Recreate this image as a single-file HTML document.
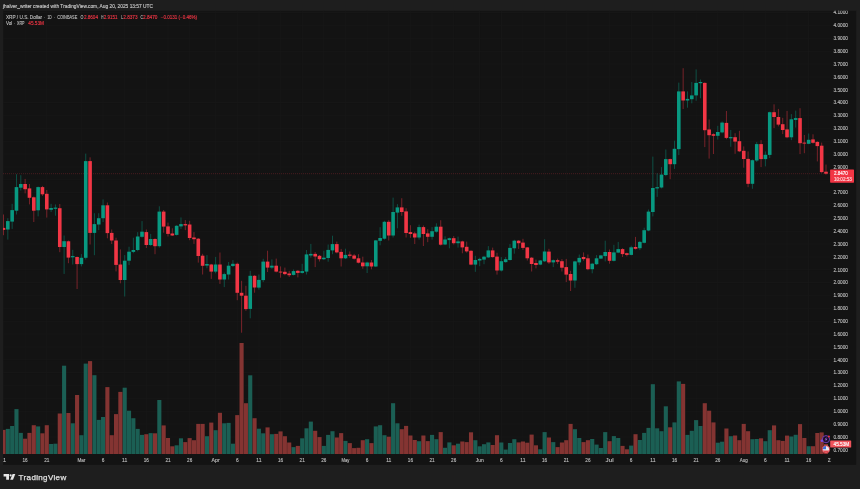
<!DOCTYPE html><html><head><meta charset="utf-8"><title>XRP chart</title><style>
html,body{margin:0;padding:0;background:#1e1e1e;}body{width:860px;height:489px;overflow:hidden;font-family:"Liberation Sans",sans-serif;}svg{display:block;}text{font-family:"Liberation Sans",sans-serif;}svg{will-change:transform;}
</style></head><body>
<svg width="860" height="489" viewBox="0 0 860 489">
<rect x="0" y="0" width="860" height="489" fill="#1e1e1e"/>
<rect x="3.0" y="10.8" width="853.2" height="454.0" fill="#131313"/>
<defs><clipPath id="cp"><rect x="3.0" y="10.8" width="828.0" height="444.7"/></clipPath><clipPath id="ct"><rect x="3.0" y="455" width="828.0" height="10"/></clipPath><clipPath id="ca"><rect x="3.0" y="10.8" width="853.2" height="454.0"/></clipPath></defs>
<g fill="#181818" clip-path="url(#cp)"><rect x="3.14" y="10.8" width="0.7" height="444.2"/><rect x="24.78" y="10.8" width="0.7" height="444.2"/><rect x="46.43" y="10.8" width="0.7" height="444.2"/><rect x="81.06" y="10.8" width="0.7" height="444.2"/><rect x="102.71" y="10.8" width="0.7" height="444.2"/><rect x="124.35" y="10.8" width="0.7" height="444.2"/><rect x="146.00" y="10.8" width="0.7" height="444.2"/><rect x="167.64" y="10.8" width="0.7" height="444.2"/><rect x="189.29" y="10.8" width="0.7" height="444.2"/><rect x="215.26" y="10.8" width="0.7" height="444.2"/><rect x="236.91" y="10.8" width="0.7" height="444.2"/><rect x="258.55" y="10.8" width="0.7" height="444.2"/><rect x="280.20" y="10.8" width="0.7" height="444.2"/><rect x="301.84" y="10.8" width="0.7" height="444.2"/><rect x="323.49" y="10.8" width="0.7" height="444.2"/><rect x="345.13" y="10.8" width="0.7" height="444.2"/><rect x="366.78" y="10.8" width="0.7" height="444.2"/><rect x="388.42" y="10.8" width="0.7" height="444.2"/><rect x="410.07" y="10.8" width="0.7" height="444.2"/><rect x="431.71" y="10.8" width="0.7" height="444.2"/><rect x="453.36" y="10.8" width="0.7" height="444.2"/><rect x="479.33" y="10.8" width="0.7" height="444.2"/><rect x="500.97" y="10.8" width="0.7" height="444.2"/><rect x="522.62" y="10.8" width="0.7" height="444.2"/><rect x="544.26" y="10.8" width="0.7" height="444.2"/><rect x="565.91" y="10.8" width="0.7" height="444.2"/><rect x="587.55" y="10.8" width="0.7" height="444.2"/><rect x="609.20" y="10.8" width="0.7" height="444.2"/><rect x="630.84" y="10.8" width="0.7" height="444.2"/><rect x="652.49" y="10.8" width="0.7" height="444.2"/><rect x="674.13" y="10.8" width="0.7" height="444.2"/><rect x="695.78" y="10.8" width="0.7" height="444.2"/><rect x="717.42" y="10.8" width="0.7" height="444.2"/><rect x="743.40" y="10.8" width="0.7" height="444.2"/><rect x="765.04" y="10.8" width="0.7" height="444.2"/><rect x="786.69" y="10.8" width="0.7" height="444.2"/><rect x="808.33" y="10.8" width="0.7" height="444.2"/><rect x="3.0" y="12.32" width="828.0" height="0.7"/><rect x="3.0" y="25.18" width="828.0" height="0.7"/><rect x="3.0" y="38.04" width="828.0" height="0.7"/><rect x="3.0" y="50.89" width="828.0" height="0.7"/><rect x="3.0" y="63.75" width="828.0" height="0.7"/><rect x="3.0" y="76.61" width="828.0" height="0.7"/><rect x="3.0" y="89.47" width="828.0" height="0.7"/><rect x="3.0" y="102.32" width="828.0" height="0.7"/><rect x="3.0" y="115.18" width="828.0" height="0.7"/><rect x="3.0" y="128.04" width="828.0" height="0.7"/><rect x="3.0" y="140.89" width="828.0" height="0.7"/><rect x="3.0" y="153.75" width="828.0" height="0.7"/><rect x="3.0" y="166.61" width="828.0" height="0.7"/><rect x="3.0" y="179.46" width="828.0" height="0.7"/><rect x="3.0" y="192.32" width="828.0" height="0.7"/><rect x="3.0" y="205.18" width="828.0" height="0.7"/><rect x="3.0" y="218.03" width="828.0" height="0.7"/><rect x="3.0" y="230.89" width="828.0" height="0.7"/><rect x="3.0" y="243.75" width="828.0" height="0.7"/><rect x="3.0" y="256.61" width="828.0" height="0.7"/><rect x="3.0" y="269.46" width="828.0" height="0.7"/><rect x="3.0" y="282.32" width="828.0" height="0.7"/><rect x="3.0" y="295.18" width="828.0" height="0.7"/><rect x="3.0" y="308.03" width="828.0" height="0.7"/><rect x="3.0" y="320.89" width="828.0" height="0.7"/><rect x="3.0" y="333.75" width="828.0" height="0.7"/><rect x="3.0" y="346.60" width="828.0" height="0.7"/><rect x="3.0" y="359.46" width="828.0" height="0.7"/><rect x="3.0" y="372.32" width="828.0" height="0.7"/><rect x="3.0" y="385.18" width="828.0" height="0.7"/><rect x="3.0" y="398.03" width="828.0" height="0.7"/><rect x="3.0" y="410.89" width="828.0" height="0.7"/><rect x="3.0" y="423.75" width="828.0" height="0.7"/><rect x="3.0" y="436.60" width="828.0" height="0.7"/><rect x="3.0" y="449.46" width="828.0" height="0.7"/></g>
<g clip-path="url(#cp)"><g fill="#1b5f54"><rect x="5.77" y="428.9" width="4.10" height="25.1"/><rect x="10.10" y="426.0" width="4.10" height="28.0"/><rect x="14.43" y="409.1" width="4.10" height="44.9"/><rect x="18.76" y="432.9" width="4.10" height="21.1"/><rect x="36.07" y="426.4" width="4.10" height="27.6"/><rect x="49.06" y="444.0" width="4.10" height="10.0"/><rect x="53.39" y="443.7" width="4.10" height="10.3"/><rect x="62.05" y="365.7" width="4.10" height="88.3"/><rect x="70.70" y="423.3" width="4.10" height="30.7"/><rect x="79.36" y="435.2" width="4.10" height="18.8"/><rect x="83.69" y="363.6" width="4.10" height="90.4"/><rect x="92.35" y="375.2" width="4.10" height="78.8"/><rect x="96.68" y="419.9" width="4.10" height="34.1"/><rect x="101.01" y="417.0" width="4.10" height="37.0"/><rect x="122.65" y="387.7" width="4.10" height="66.3"/><rect x="126.98" y="410.7" width="4.10" height="43.3"/><rect x="131.31" y="418.2" width="4.10" height="35.8"/><rect x="135.64" y="428.9" width="4.10" height="25.1"/><rect x="139.97" y="434.9" width="4.10" height="19.1"/><rect x="148.63" y="433.1" width="4.10" height="20.9"/><rect x="157.28" y="400.0" width="4.10" height="54.0"/><rect x="174.60" y="445.3" width="4.10" height="8.7"/><rect x="178.93" y="438.3" width="4.10" height="15.7"/><rect x="204.90" y="436.2" width="4.10" height="17.8"/><rect x="213.56" y="430.2" width="4.10" height="23.8"/><rect x="222.22" y="423.3" width="4.10" height="30.7"/><rect x="226.55" y="422.9" width="4.10" height="31.1"/><rect x="230.88" y="443.7" width="4.10" height="10.3"/><rect x="248.19" y="375.3" width="4.10" height="78.7"/><rect x="256.85" y="428.7" width="4.10" height="25.3"/><rect x="261.18" y="433.3" width="4.10" height="20.7"/><rect x="269.84" y="434.2" width="4.10" height="19.8"/><rect x="291.48" y="447.1" width="4.10" height="6.9"/><rect x="300.14" y="438.3" width="4.10" height="15.7"/><rect x="304.47" y="428.3" width="4.10" height="25.7"/><rect x="308.80" y="421.6" width="4.10" height="32.4"/><rect x="321.79" y="445.9" width="4.10" height="8.1"/><rect x="326.11" y="434.9" width="4.10" height="19.1"/><rect x="330.44" y="431.2" width="4.10" height="22.8"/><rect x="343.43" y="440.9" width="4.10" height="13.1"/><rect x="365.08" y="439.2" width="4.10" height="14.8"/><rect x="373.73" y="426.4" width="4.10" height="27.6"/><rect x="378.06" y="425.2" width="4.10" height="28.8"/><rect x="382.39" y="435.2" width="4.10" height="18.8"/><rect x="391.05" y="403.2" width="4.10" height="50.8"/><rect x="395.38" y="423.3" width="4.10" height="30.7"/><rect x="417.02" y="441.2" width="4.10" height="12.8"/><rect x="430.01" y="434.9" width="4.10" height="19.1"/><rect x="434.34" y="439.2" width="4.10" height="14.8"/><rect x="443.00" y="447.8" width="4.10" height="6.2"/><rect x="447.33" y="442.4" width="4.10" height="11.6"/><rect x="455.98" y="443.7" width="4.10" height="10.3"/><rect x="473.30" y="440.2" width="4.10" height="13.8"/><rect x="477.63" y="446.3" width="4.10" height="7.7"/><rect x="481.96" y="444.2" width="4.10" height="9.8"/><rect x="486.29" y="442.4" width="4.10" height="11.6"/><rect x="499.27" y="442.5" width="4.10" height="11.5"/><rect x="503.60" y="449.6" width="4.10" height="4.4"/><rect x="507.93" y="443.0" width="4.10" height="11.0"/><rect x="512.26" y="439.2" width="4.10" height="14.8"/><rect x="538.24" y="449.3" width="4.10" height="4.7"/><rect x="542.57" y="432.1" width="4.10" height="21.9"/><rect x="551.22" y="442.1" width="4.10" height="11.9"/><rect x="572.87" y="429.2" width="4.10" height="24.8"/><rect x="577.20" y="438.0" width="4.10" height="16.0"/><rect x="590.18" y="439.0" width="4.10" height="15.0"/><rect x="594.51" y="444.6" width="4.10" height="9.4"/><rect x="598.84" y="448.0" width="4.10" height="6.0"/><rect x="603.17" y="432.1" width="4.10" height="21.9"/><rect x="611.83" y="436.1" width="4.10" height="17.9"/><rect x="616.16" y="438.0" width="4.10" height="16.0"/><rect x="629.14" y="445.6" width="4.10" height="8.4"/><rect x="637.80" y="440.0" width="4.10" height="14.0"/><rect x="642.13" y="432.9" width="4.10" height="21.1"/><rect x="646.46" y="427.9" width="4.10" height="26.1"/><rect x="650.79" y="384.2" width="4.10" height="69.8"/><rect x="655.12" y="428.3" width="4.10" height="25.7"/><rect x="659.45" y="431.2" width="4.10" height="22.8"/><rect x="663.78" y="406.3" width="4.10" height="47.7"/><rect x="672.44" y="422.4" width="4.10" height="31.6"/><rect x="676.76" y="381.4" width="4.10" height="72.6"/><rect x="685.42" y="434.9" width="4.10" height="19.1"/><rect x="689.75" y="430.8" width="4.10" height="23.2"/><rect x="694.08" y="420.1" width="4.10" height="33.9"/><rect x="698.41" y="426.0" width="4.10" height="28.0"/><rect x="715.73" y="442.7" width="4.10" height="11.3"/><rect x="720.05" y="441.7" width="4.10" height="12.3"/><rect x="728.71" y="436.2" width="4.10" height="17.8"/><rect x="750.36" y="439.2" width="4.10" height="14.8"/><rect x="754.69" y="439.0" width="4.10" height="15.0"/><rect x="763.34" y="441.2" width="4.10" height="12.8"/><rect x="767.67" y="430.2" width="4.10" height="23.8"/><rect x="789.32" y="436.5" width="4.10" height="17.5"/><rect x="793.65" y="434.8" width="4.10" height="19.2"/><rect x="806.63" y="446.2" width="4.10" height="7.8"/></g><g fill="#843432"><rect x="1.44" y="429.9" width="4.10" height="24.1"/><rect x="23.08" y="438.7" width="4.10" height="15.3"/><rect x="27.41" y="432.9" width="4.10" height="21.1"/><rect x="31.74" y="425.2" width="4.10" height="28.8"/><rect x="40.40" y="433.3" width="4.10" height="20.7"/><rect x="44.73" y="425.2" width="4.10" height="28.8"/><rect x="57.72" y="413.5" width="4.10" height="40.5"/><rect x="66.38" y="413.0" width="4.10" height="41.0"/><rect x="75.03" y="395.0" width="4.10" height="59.0"/><rect x="88.02" y="361.1" width="4.10" height="92.9"/><rect x="105.34" y="387.1" width="4.10" height="66.9"/><rect x="109.66" y="435.2" width="4.10" height="18.8"/><rect x="113.99" y="414.1" width="4.10" height="39.9"/><rect x="118.32" y="391.9" width="4.10" height="62.1"/><rect x="144.30" y="434.2" width="4.10" height="19.8"/><rect x="152.95" y="433.3" width="4.10" height="20.7"/><rect x="161.61" y="425.4" width="4.10" height="28.6"/><rect x="165.94" y="438.0" width="4.10" height="16.0"/><rect x="170.27" y="446.3" width="4.10" height="7.7"/><rect x="183.26" y="442.1" width="4.10" height="11.9"/><rect x="187.59" y="438.1" width="4.10" height="15.9"/><rect x="191.92" y="440.2" width="4.10" height="13.8"/><rect x="196.24" y="423.9" width="4.10" height="30.1"/><rect x="200.57" y="423.9" width="4.10" height="30.1"/><rect x="209.23" y="422.6" width="4.10" height="31.4"/><rect x="217.89" y="412.8" width="4.10" height="41.2"/><rect x="235.21" y="415.1" width="4.10" height="38.9"/><rect x="239.53" y="343.0" width="4.10" height="111.0"/><rect x="243.86" y="403.2" width="4.10" height="50.8"/><rect x="252.52" y="418.2" width="4.10" height="35.8"/><rect x="265.51" y="427.4" width="4.10" height="26.6"/><rect x="274.17" y="433.9" width="4.10" height="20.1"/><rect x="278.50" y="431.4" width="4.10" height="22.6"/><rect x="282.82" y="436.2" width="4.10" height="17.8"/><rect x="287.15" y="442.5" width="4.10" height="11.5"/><rect x="295.81" y="445.9" width="4.10" height="8.1"/><rect x="313.13" y="430.8" width="4.10" height="23.2"/><rect x="317.46" y="437.1" width="4.10" height="16.9"/><rect x="334.77" y="437.5" width="4.10" height="16.5"/><rect x="339.10" y="433.1" width="4.10" height="20.9"/><rect x="347.76" y="443.1" width="4.10" height="10.9"/><rect x="352.09" y="448.1" width="4.10" height="5.9"/><rect x="356.42" y="447.8" width="4.10" height="6.2"/><rect x="360.75" y="440.2" width="4.10" height="13.8"/><rect x="369.40" y="443.1" width="4.10" height="10.9"/><rect x="386.72" y="436.7" width="4.10" height="17.3"/><rect x="399.71" y="429.2" width="4.10" height="24.8"/><rect x="404.04" y="425.9" width="4.10" height="28.1"/><rect x="408.37" y="435.5" width="4.10" height="18.5"/><rect x="412.69" y="440.0" width="4.10" height="14.0"/><rect x="421.35" y="435.5" width="4.10" height="18.5"/><rect x="425.68" y="441.1" width="4.10" height="12.9"/><rect x="438.67" y="432.1" width="4.10" height="21.9"/><rect x="451.66" y="445.3" width="4.10" height="8.7"/><rect x="460.31" y="441.5" width="4.10" height="12.5"/><rect x="464.64" y="442.1" width="4.10" height="11.9"/><rect x="468.97" y="432.3" width="4.10" height="21.7"/><rect x="490.62" y="445.0" width="4.10" height="9.0"/><rect x="494.95" y="435.2" width="4.10" height="18.8"/><rect x="516.59" y="442.4" width="4.10" height="11.6"/><rect x="520.92" y="441.5" width="4.10" height="12.5"/><rect x="525.25" y="442.7" width="4.10" height="11.3"/><rect x="529.58" y="434.6" width="4.10" height="19.4"/><rect x="533.91" y="445.3" width="4.10" height="8.7"/><rect x="546.89" y="437.5" width="4.10" height="16.5"/><rect x="555.55" y="447.1" width="4.10" height="6.9"/><rect x="559.88" y="442.5" width="4.10" height="11.5"/><rect x="564.21" y="440.2" width="4.10" height="13.8"/><rect x="568.54" y="423.9" width="4.10" height="30.1"/><rect x="581.53" y="442.1" width="4.10" height="11.9"/><rect x="585.86" y="440.2" width="4.10" height="13.8"/><rect x="607.50" y="441.2" width="4.10" height="12.8"/><rect x="620.49" y="445.9" width="4.10" height="8.1"/><rect x="624.82" y="449.3" width="4.10" height="4.7"/><rect x="633.47" y="434.2" width="4.10" height="19.8"/><rect x="668.11" y="427.3" width="4.10" height="26.7"/><rect x="681.09" y="383.9" width="4.10" height="70.1"/><rect x="702.74" y="403.2" width="4.10" height="50.8"/><rect x="707.07" y="410.7" width="4.10" height="43.3"/><rect x="711.40" y="422.4" width="4.10" height="31.6"/><rect x="724.38" y="428.5" width="4.10" height="25.5"/><rect x="733.04" y="435.5" width="4.10" height="18.5"/><rect x="737.37" y="440.2" width="4.10" height="13.8"/><rect x="741.70" y="423.9" width="4.10" height="30.1"/><rect x="746.03" y="431.2" width="4.10" height="22.8"/><rect x="759.01" y="438.3" width="4.10" height="15.7"/><rect x="772.00" y="425.4" width="4.10" height="28.6"/><rect x="776.33" y="440.2" width="4.10" height="13.8"/><rect x="780.66" y="440.9" width="4.10" height="13.1"/><rect x="784.99" y="435.6" width="4.10" height="18.4"/><rect x="797.98" y="424.1" width="4.10" height="29.9"/><rect x="802.30" y="438.0" width="4.10" height="16.0"/><rect x="810.96" y="446.2" width="4.10" height="7.8"/><rect x="815.29" y="433.0" width="4.10" height="21.0"/><rect x="819.62" y="432.4" width="4.10" height="21.6"/><rect x="823.95" y="444.0" width="4.10" height="10.0"/></g></g>
<line x1="3.0" y1="173.7" x2="831.0" y2="173.7" stroke="#f23645" stroke-width="0.9" stroke-dasharray="1 1" opacity="0.26"/>
<g clip-path="url(#cp)"><g fill="#089981" opacity="0.45"><rect x="7.32" y="218.2" width="1.0" height="21.4"/><rect x="11.65" y="203.8" width="1.0" height="25.1"/><rect x="15.98" y="174.2" width="1.0" height="40.3"/><rect x="20.31" y="175.2" width="1.0" height="15.3"/><rect x="37.62" y="186.5" width="1.0" height="29.9"/><rect x="50.61" y="203.8" width="1.0" height="8.2"/><rect x="54.94" y="204.4" width="1.0" height="11.3"/><rect x="63.60" y="235.5" width="1.0" height="38.4"/><rect x="72.25" y="249.8" width="1.0" height="14.7"/><rect x="80.91" y="254.1" width="1.0" height="12.3"/><rect x="85.24" y="153.6" width="1.0" height="105.9"/><rect x="93.90" y="213.2" width="1.0" height="42.0"/><rect x="98.23" y="213.2" width="1.0" height="17.0"/><rect x="102.56" y="199.4" width="1.0" height="22.6"/><rect x="124.20" y="255.1" width="1.0" height="41.4"/><rect x="128.53" y="246.7" width="1.0" height="18.4"/><rect x="132.86" y="237.7" width="1.0" height="15.5"/><rect x="137.19" y="232.1" width="1.0" height="19.2"/><rect x="141.52" y="221.1" width="1.0" height="16.6"/><rect x="150.18" y="233.9" width="1.0" height="12.0"/><rect x="158.83" y="206.3" width="1.0" height="41.3"/><rect x="176.15" y="225.2" width="1.0" height="10.3"/><rect x="180.48" y="217.4" width="1.0" height="11.5"/><rect x="206.45" y="255.1" width="1.0" height="13.2"/><rect x="215.11" y="256.9" width="1.0" height="16.4"/><rect x="223.77" y="272.6" width="1.0" height="14.5"/><rect x="228.10" y="262.0" width="1.0" height="17.5"/><rect x="232.43" y="260.1" width="1.0" height="6.9"/><rect x="249.74" y="270.8" width="1.0" height="47.5"/><rect x="258.40" y="274.5" width="1.0" height="15.1"/><rect x="262.73" y="258.8" width="1.0" height="23.3"/><rect x="271.39" y="259.4" width="1.0" height="9.5"/><rect x="293.03" y="269.5" width="1.0" height="5.9"/><rect x="301.69" y="263.8" width="1.0" height="9.8"/><rect x="306.02" y="250.0" width="1.0" height="24.5"/><rect x="310.35" y="243.9" width="1.0" height="13.8"/><rect x="323.34" y="250.8" width="1.0" height="9.2"/><rect x="327.66" y="244.5" width="1.0" height="17.2"/><rect x="331.99" y="235.7" width="1.0" height="18.5"/><rect x="344.98" y="248.7" width="1.0" height="10.3"/><rect x="366.63" y="261.7" width="1.0" height="11.3"/><rect x="375.28" y="239.9" width="1.0" height="27.2"/><rect x="379.61" y="227.2" width="1.0" height="18.1"/><rect x="383.94" y="220.8" width="1.0" height="18.8"/><rect x="392.60" y="197.6" width="1.0" height="39.9"/><rect x="396.93" y="204.1" width="1.0" height="24.2"/><rect x="418.57" y="224.6" width="1.0" height="15.0"/><rect x="431.56" y="227.1" width="1.0" height="12.5"/><rect x="435.89" y="223.3" width="1.0" height="9.4"/><rect x="444.55" y="236.3" width="1.0" height="8.8"/><rect x="448.88" y="237.6" width="1.0" height="10.7"/><rect x="457.53" y="236.6" width="1.0" height="11.0"/><rect x="474.85" y="255.8" width="1.0" height="16.0"/><rect x="479.18" y="257.7" width="1.0" height="8.5"/><rect x="483.51" y="255.8" width="1.0" height="8.4"/><rect x="487.84" y="246.1" width="1.0" height="11.8"/><rect x="500.82" y="257.1" width="1.0" height="14.4"/><rect x="505.15" y="257.1" width="1.0" height="5.6"/><rect x="509.48" y="244.1" width="1.0" height="16.4"/><rect x="513.81" y="239.8" width="1.0" height="13.9"/><rect x="539.79" y="260.0" width="1.0" height="5.2"/><rect x="544.12" y="239.2" width="1.0" height="22.8"/><rect x="552.77" y="259.5" width="1.0" height="7.6"/><rect x="574.42" y="260.8" width="1.0" height="27.0"/><rect x="578.75" y="254.5" width="1.0" height="10.7"/><rect x="591.73" y="262.9" width="1.0" height="10.4"/><rect x="596.06" y="255.1" width="1.0" height="9.8"/><rect x="600.39" y="254.9" width="1.0" height="4.2"/><rect x="604.72" y="240.7" width="1.0" height="20.7"/><rect x="613.38" y="244.8" width="1.0" height="16.6"/><rect x="617.71" y="241.9" width="1.0" height="11.3"/><rect x="630.69" y="245.7" width="1.0" height="9.6"/><rect x="639.35" y="241.0" width="1.0" height="9.1"/><rect x="643.68" y="227.7" width="1.0" height="15.7"/><rect x="648.01" y="209.5" width="1.0" height="21.7"/><rect x="652.34" y="156.6" width="1.0" height="59.8"/><rect x="656.67" y="173.3" width="1.0" height="23.6"/><rect x="661.00" y="167.1" width="1.0" height="21.3"/><rect x="665.33" y="149.5" width="1.0" height="26.7"/><rect x="673.99" y="140.7" width="1.0" height="28.2"/><rect x="678.31" y="82.6" width="1.0" height="72.5"/><rect x="686.97" y="91.4" width="1.0" height="16.3"/><rect x="691.30" y="82.0" width="1.0" height="21.3"/><rect x="695.63" y="69.4" width="1.0" height="31.4"/><rect x="699.96" y="79.5" width="1.0" height="18.8"/><rect x="717.27" y="125.8" width="1.0" height="13.8"/><rect x="721.60" y="121.4" width="1.0" height="11.9"/><rect x="730.26" y="129.9" width="1.0" height="16.9"/><rect x="751.91" y="159.5" width="1.0" height="29.3"/><rect x="756.24" y="142.0" width="1.0" height="20.0"/><rect x="764.89" y="151.4" width="1.0" height="15.0"/><rect x="769.22" y="111.6" width="1.0" height="46.4"/><rect x="790.87" y="114.1" width="1.0" height="26.1"/><rect x="795.20" y="110.6" width="1.0" height="17.0"/><rect x="808.18" y="133.5" width="1.0" height="10.7"/></g><g fill="#f23645" opacity="0.45"><rect x="2.99" y="214.5" width="1.0" height="20.7"/><rect x="24.63" y="178.9" width="1.0" height="14.5"/><rect x="28.96" y="184.0" width="1.0" height="20.4"/><rect x="33.29" y="196.5" width="1.0" height="25.5"/><rect x="41.95" y="185.9" width="1.0" height="10.0"/><rect x="46.28" y="190.0" width="1.0" height="27.6"/><rect x="59.27" y="204.0" width="1.0" height="48.2"/><rect x="67.92" y="240.5" width="1.0" height="22.7"/><rect x="76.58" y="256.5" width="1.0" height="32.5"/><rect x="89.57" y="157.3" width="1.0" height="87.2"/><rect x="106.89" y="202.5" width="1.0" height="35.8"/><rect x="111.21" y="229.5" width="1.0" height="14.5"/><rect x="115.54" y="237.7" width="1.0" height="33.7"/><rect x="119.87" y="249.4" width="1.0" height="33.9"/><rect x="145.85" y="229.5" width="1.0" height="18.5"/><rect x="154.50" y="238.3" width="1.0" height="15.9"/><rect x="163.16" y="210.0" width="1.0" height="22.7"/><rect x="167.49" y="222.6" width="1.0" height="13.9"/><rect x="171.82" y="228.3" width="1.0" height="7.7"/><rect x="184.81" y="220.1" width="1.0" height="10.1"/><rect x="189.14" y="220.8" width="1.0" height="19.4"/><rect x="193.47" y="232.1" width="1.0" height="11.8"/><rect x="197.79" y="238.0" width="1.0" height="24.6"/><rect x="202.12" y="253.8" width="1.0" height="20.7"/><rect x="210.78" y="263.9" width="1.0" height="15.0"/><rect x="219.44" y="252.5" width="1.0" height="31.4"/><rect x="236.76" y="262.6" width="1.0" height="37.6"/><rect x="241.09" y="280.8" width="1.0" height="51.9"/><rect x="245.41" y="285.8" width="1.0" height="25.0"/><rect x="254.07" y="275.2" width="1.0" height="17.5"/><rect x="267.06" y="250.7" width="1.0" height="21.3"/><rect x="275.72" y="258.6" width="1.0" height="13.8"/><rect x="280.05" y="266.4" width="1.0" height="11.3"/><rect x="284.38" y="267.6" width="1.0" height="7.6"/><rect x="288.70" y="270.8" width="1.0" height="6.2"/><rect x="297.36" y="270.1" width="1.0" height="7.3"/><rect x="314.68" y="252.1" width="1.0" height="15.0"/><rect x="319.01" y="255.0" width="1.0" height="6.5"/><rect x="336.32" y="241.6" width="1.0" height="11.7"/><rect x="340.65" y="248.9" width="1.0" height="17.6"/><rect x="349.31" y="251.4" width="1.0" height="6.3"/><rect x="353.64" y="253.9" width="1.0" height="5.7"/><rect x="357.97" y="254.2" width="1.0" height="9.2"/><rect x="362.30" y="256.7" width="1.0" height="12.1"/><rect x="370.95" y="260.0" width="1.0" height="9.3"/><rect x="388.27" y="220.1" width="1.0" height="20.4"/><rect x="401.26" y="198.2" width="1.0" height="17.6"/><rect x="405.59" y="208.2" width="1.0" height="29.3"/><rect x="409.92" y="225.2" width="1.0" height="12.6"/><rect x="414.25" y="231.7" width="1.0" height="12.3"/><rect x="422.90" y="225.5" width="1.0" height="20.5"/><rect x="427.23" y="229.2" width="1.0" height="13.0"/><rect x="440.22" y="220.2" width="1.0" height="25.4"/><rect x="453.21" y="236.1" width="1.0" height="8.4"/><rect x="461.86" y="240.7" width="1.0" height="12.6"/><rect x="466.19" y="241.6" width="1.0" height="11.1"/><rect x="470.52" y="250.2" width="1.0" height="15.0"/><rect x="492.17" y="247.6" width="1.0" height="10.0"/><rect x="496.50" y="252.7" width="1.0" height="21.9"/><rect x="518.14" y="240.1" width="1.0" height="8.8"/><rect x="522.47" y="238.8" width="1.0" height="11.1"/><rect x="526.80" y="247.0" width="1.0" height="13.5"/><rect x="531.13" y="257.1" width="1.0" height="14.4"/><rect x="535.46" y="259.6" width="1.0" height="8.8"/><rect x="548.44" y="248.8" width="1.0" height="15.1"/><rect x="557.10" y="258.6" width="1.0" height="5.3"/><rect x="561.43" y="259.1" width="1.0" height="12.4"/><rect x="565.76" y="258.9" width="1.0" height="23.2"/><rect x="570.09" y="270.8" width="1.0" height="20.2"/><rect x="583.08" y="252.4" width="1.0" height="8.4"/><rect x="587.40" y="254.5" width="1.0" height="15.7"/><rect x="609.05" y="249.5" width="1.0" height="14.2"/><rect x="622.04" y="248.2" width="1.0" height="8.8"/><rect x="626.37" y="252.6" width="1.0" height="3.8"/><rect x="635.02" y="236.9" width="1.0" height="12.6"/><rect x="669.66" y="158.6" width="1.0" height="20.6"/><rect x="682.64" y="68.2" width="1.0" height="40.8"/><rect x="704.29" y="82.4" width="1.0" height="64.7"/><rect x="708.62" y="119.5" width="1.0" height="39.1"/><rect x="712.95" y="133.3" width="1.0" height="20.7"/><rect x="725.93" y="111.0" width="1.0" height="28.2"/><rect x="734.59" y="133.2" width="1.0" height="20.6"/><rect x="738.92" y="130.8" width="1.0" height="21.3"/><rect x="743.25" y="146.4" width="1.0" height="21.3"/><rect x="747.58" y="151.4" width="1.0" height="35.8"/><rect x="760.56" y="140.1" width="1.0" height="27.0"/><rect x="773.55" y="104.3" width="1.0" height="23.8"/><rect x="777.88" y="108.9" width="1.0" height="17.5"/><rect x="782.21" y="117.8" width="1.0" height="16.3"/><rect x="786.54" y="110.9" width="1.0" height="27.3"/><rect x="799.53" y="108.2" width="1.0" height="45.9"/><rect x="803.85" y="135.0" width="1.0" height="18.2"/><rect x="812.51" y="134.3" width="1.0" height="9.3"/><rect x="816.84" y="141.3" width="1.0" height="20.1"/><rect x="821.17" y="142.6" width="1.0" height="30.2"/><rect x="825.50" y="164.5" width="1.0" height="10.1"/></g>
<g fill="#089981"><rect x="6.02" y="221.1" width="3.6" height="8.4"/><rect x="10.35" y="210.1" width="3.6" height="11.5"/><rect x="14.68" y="187.1" width="3.6" height="23.6"/><rect x="19.01" y="184.0" width="3.6" height="3.7"/><rect x="36.32" y="187.1" width="3.6" height="23.2"/><rect x="49.31" y="208.0" width="3.6" height="1.8"/><rect x="53.64" y="207.6" width="3.6" height="1.2"/><rect x="62.30" y="241.2" width="3.6" height="5.8"/><rect x="70.95" y="256.1" width="3.6" height="1.2"/><rect x="79.61" y="257.8" width="3.6" height="6.3"/><rect x="83.94" y="161.1" width="3.6" height="96.7"/><rect x="92.60" y="224.1" width="3.6" height="8.8"/><rect x="96.93" y="218.2" width="3.6" height="6.3"/><rect x="101.26" y="205.3" width="3.6" height="12.9"/><rect x="122.90" y="260.7" width="3.6" height="19.3"/><rect x="127.23" y="251.7" width="3.6" height="9.0"/><rect x="131.56" y="250.0" width="3.6" height="1.9"/><rect x="135.89" y="236.5" width="3.6" height="13.5"/><rect x="140.22" y="231.7" width="3.6" height="5.1"/><rect x="148.88" y="239.0" width="3.6" height="6.0"/><rect x="157.53" y="211.6" width="3.6" height="34.6"/><rect x="174.85" y="225.8" width="3.6" height="9.1"/><rect x="179.18" y="224.1" width="3.6" height="2.3"/><rect x="205.15" y="264.0" width="3.6" height="1.6"/><rect x="213.81" y="264.5" width="3.6" height="7.1"/><rect x="222.47" y="274.1" width="3.6" height="5.4"/><rect x="226.80" y="265.7" width="3.6" height="8.8"/><rect x="231.13" y="263.8" width="3.6" height="2.2"/><rect x="248.44" y="275.8" width="3.6" height="33.1"/><rect x="257.10" y="279.9" width="3.6" height="7.7"/><rect x="261.43" y="261.6" width="3.6" height="18.5"/><rect x="270.09" y="265.7" width="3.6" height="1.9"/><rect x="291.73" y="271.1" width="3.6" height="3.8"/><rect x="300.39" y="271.1" width="3.6" height="1.8"/><rect x="304.72" y="254.4" width="3.6" height="17.2"/><rect x="309.05" y="253.9" width="3.6" height="1.6"/><rect x="322.04" y="257.7" width="3.6" height="1.5"/><rect x="326.36" y="249.9" width="3.6" height="8.1"/><rect x="330.69" y="244.1" width="3.6" height="6.3"/><rect x="343.68" y="254.9" width="3.6" height="3.4"/><rect x="365.33" y="262.5" width="3.6" height="3.8"/><rect x="373.98" y="240.4" width="3.6" height="26.1"/><rect x="378.31" y="238.0" width="3.6" height="2.8"/><rect x="382.64" y="221.8" width="3.6" height="16.9"/><rect x="391.30" y="212.0" width="3.6" height="23.5"/><rect x="395.63" y="207.4" width="3.6" height="5.2"/><rect x="417.27" y="227.1" width="3.6" height="10.4"/><rect x="430.26" y="231.2" width="3.6" height="5.6"/><rect x="434.59" y="226.7" width="3.6" height="5.0"/><rect x="443.25" y="239.5" width="3.6" height="5.0"/><rect x="447.58" y="238.2" width="3.6" height="1.9"/><rect x="456.23" y="241.4" width="3.6" height="1.8"/><rect x="473.55" y="260.0" width="3.6" height="4.6"/><rect x="477.88" y="258.9" width="3.6" height="1.6"/><rect x="482.21" y="256.7" width="3.6" height="2.9"/><rect x="486.54" y="250.4" width="3.6" height="7.0"/><rect x="499.52" y="261.2" width="3.6" height="9.3"/><rect x="503.85" y="259.2" width="3.6" height="2.9"/><rect x="508.18" y="247.9" width="3.6" height="12.1"/><rect x="512.51" y="240.7" width="3.6" height="7.6"/><rect x="538.49" y="260.5" width="3.6" height="4.1"/><rect x="542.82" y="251.5" width="3.6" height="9.8"/><rect x="551.47" y="260.2" width="3.6" height="2.2"/><rect x="573.12" y="261.4" width="3.6" height="19.1"/><rect x="577.45" y="257.9" width="3.6" height="4.5"/><rect x="590.43" y="263.7" width="3.6" height="5.5"/><rect x="594.76" y="258.3" width="3.6" height="5.9"/><rect x="599.09" y="255.4" width="3.6" height="3.2"/><rect x="603.42" y="252.0" width="3.6" height="4.1"/><rect x="612.08" y="252.4" width="3.6" height="8.4"/><rect x="616.41" y="249.1" width="3.6" height="3.5"/><rect x="629.39" y="247.3" width="3.6" height="7.6"/><rect x="638.05" y="241.9" width="3.6" height="6.3"/><rect x="642.38" y="230.2" width="3.6" height="12.6"/><rect x="646.71" y="211.6" width="3.6" height="18.9"/><rect x="651.04" y="188.0" width="3.6" height="24.0"/><rect x="655.37" y="187.2" width="3.6" height="1.2"/><rect x="659.70" y="174.6" width="3.6" height="12.9"/><rect x="664.03" y="159.1" width="3.6" height="15.9"/><rect x="672.69" y="148.8" width="3.6" height="15.4"/><rect x="677.01" y="91.4" width="3.6" height="57.7"/><rect x="685.67" y="98.9" width="3.6" height="1.6"/><rect x="690.00" y="95.4" width="3.6" height="3.8"/><rect x="694.33" y="82.9" width="3.6" height="12.5"/><rect x="698.66" y="82.0" width="3.6" height="1.2"/><rect x="715.98" y="132.0" width="3.6" height="3.8"/><rect x="720.30" y="122.6" width="3.6" height="9.8"/><rect x="728.96" y="137.1" width="3.6" height="1.2"/><rect x="750.61" y="160.2" width="3.6" height="23.6"/><rect x="754.94" y="144.1" width="3.6" height="16.4"/><rect x="763.59" y="154.8" width="3.6" height="4.3"/><rect x="767.92" y="112.2" width="3.6" height="42.7"/><rect x="789.57" y="119.3" width="3.6" height="18.0"/><rect x="793.90" y="118.1" width="3.6" height="1.8"/><rect x="806.88" y="139.8" width="3.6" height="4.0"/></g><g fill="#f23645"><rect x="1.69" y="227.9" width="3.6" height="2.0"/><rect x="23.33" y="184.0" width="3.6" height="5.2"/><rect x="27.66" y="188.4" width="3.6" height="9.4"/><rect x="31.99" y="197.3" width="3.6" height="13.4"/><rect x="40.65" y="187.1" width="3.6" height="7.2"/><rect x="44.98" y="193.8" width="3.6" height="15.6"/><rect x="57.97" y="208.2" width="3.6" height="38.8"/><rect x="66.62" y="241.3" width="3.6" height="16.3"/><rect x="75.28" y="257.0" width="3.6" height="7.1"/><rect x="88.27" y="161.1" width="3.6" height="71.8"/><rect x="105.59" y="205.3" width="3.6" height="27.8"/><rect x="109.91" y="232.9" width="3.6" height="7.6"/><rect x="114.24" y="240.5" width="3.6" height="24.4"/><rect x="118.57" y="264.5" width="3.6" height="15.5"/><rect x="144.55" y="232.1" width="3.6" height="12.9"/><rect x="153.20" y="239.0" width="3.6" height="7.2"/><rect x="161.86" y="211.6" width="3.6" height="15.0"/><rect x="166.19" y="226.4" width="3.6" height="7.5"/><rect x="170.52" y="233.5" width="3.6" height="2.0"/><rect x="183.51" y="224.1" width="3.6" height="1.3"/><rect x="187.84" y="224.5" width="3.6" height="13.5"/><rect x="192.17" y="237.5" width="3.6" height="1.7"/><rect x="196.49" y="238.7" width="3.6" height="17.3"/><rect x="200.82" y="255.7" width="3.6" height="10.1"/><rect x="209.48" y="264.5" width="3.6" height="7.1"/><rect x="218.14" y="264.5" width="3.6" height="15.0"/><rect x="235.46" y="263.8" width="3.6" height="29.0"/><rect x="239.78" y="292.8" width="3.6" height="2.9"/><rect x="244.11" y="295.7" width="3.6" height="13.4"/><rect x="252.77" y="275.8" width="3.6" height="11.7"/><rect x="265.76" y="261.6" width="3.6" height="6.0"/><rect x="274.42" y="265.7" width="3.6" height="5.9"/><rect x="278.75" y="271.6" width="3.6" height="0.9"/><rect x="283.07" y="271.8" width="3.6" height="2.3"/><rect x="287.40" y="273.5" width="3.6" height="1.7"/><rect x="296.06" y="270.8" width="3.6" height="2.1"/><rect x="313.38" y="253.9" width="3.6" height="2.6"/><rect x="317.71" y="255.8" width="3.6" height="3.4"/><rect x="335.02" y="244.1" width="3.6" height="8.3"/><rect x="339.35" y="251.9" width="3.6" height="6.4"/><rect x="348.01" y="254.6" width="3.6" height="1.2"/><rect x="352.34" y="255.5" width="3.6" height="3.2"/><rect x="356.67" y="258.3" width="3.6" height="4.4"/><rect x="361.00" y="262.5" width="3.6" height="3.8"/><rect x="369.65" y="262.5" width="3.6" height="4.0"/><rect x="386.97" y="221.8" width="3.6" height="13.7"/><rect x="399.96" y="207.4" width="3.6" height="4.6"/><rect x="404.29" y="211.4" width="3.6" height="21.6"/><rect x="408.62" y="232.1" width="3.6" height="1.9"/><rect x="412.94" y="233.4" width="3.6" height="4.1"/><rect x="421.60" y="227.1" width="3.6" height="6.9"/><rect x="425.93" y="233.4" width="3.6" height="3.4"/><rect x="438.92" y="226.7" width="3.6" height="18.0"/><rect x="451.91" y="238.2" width="3.6" height="5.0"/><rect x="460.56" y="241.4" width="3.6" height="6.0"/><rect x="464.89" y="246.8" width="3.6" height="4.6"/><rect x="469.22" y="250.8" width="3.6" height="13.8"/><rect x="490.87" y="250.4" width="3.6" height="6.7"/><rect x="495.20" y="256.6" width="3.6" height="13.9"/><rect x="516.84" y="240.7" width="3.6" height="2.5"/><rect x="521.17" y="242.6" width="3.6" height="5.3"/><rect x="525.50" y="247.4" width="3.6" height="10.9"/><rect x="529.83" y="257.7" width="3.6" height="6.3"/><rect x="534.16" y="263.0" width="3.6" height="2.0"/><rect x="547.14" y="251.6" width="3.6" height="10.8"/><rect x="555.80" y="260.2" width="3.6" height="1.5"/><rect x="560.13" y="261.2" width="3.6" height="6.5"/><rect x="564.46" y="267.1" width="3.6" height="7.5"/><rect x="568.79" y="274.0" width="3.6" height="6.5"/><rect x="581.78" y="257.0" width="3.6" height="2.1"/><rect x="586.11" y="258.3" width="3.6" height="10.9"/><rect x="607.75" y="252.0" width="3.6" height="8.8"/><rect x="620.74" y="249.1" width="3.6" height="5.0"/><rect x="625.07" y="253.2" width="3.6" height="1.7"/><rect x="633.72" y="247.0" width="3.6" height="1.8"/><rect x="668.36" y="159.1" width="3.6" height="5.1"/><rect x="681.34" y="91.4" width="3.6" height="9.1"/><rect x="702.99" y="82.9" width="3.6" height="47.3"/><rect x="707.32" y="129.5" width="3.6" height="5.7"/><rect x="711.65" y="134.2" width="3.6" height="1.6"/><rect x="724.63" y="122.9" width="3.6" height="15.0"/><rect x="733.29" y="137.2" width="3.6" height="4.4"/><rect x="737.62" y="141.2" width="3.6" height="10.1"/><rect x="741.95" y="150.8" width="3.6" height="8.2"/><rect x="746.28" y="158.9" width="3.6" height="24.9"/><rect x="759.26" y="144.1" width="3.6" height="15.0"/><rect x="772.25" y="112.2" width="3.6" height="4.8"/><rect x="776.58" y="117.0" width="3.6" height="7.6"/><rect x="780.91" y="124.2" width="3.6" height="5.8"/><rect x="785.24" y="129.4" width="3.6" height="7.9"/><rect x="798.23" y="118.1" width="3.6" height="25.1"/><rect x="802.55" y="142.6" width="3.6" height="1.0"/><rect x="811.21" y="139.4" width="3.6" height="3.4"/><rect x="815.54" y="141.9" width="3.6" height="4.2"/><rect x="819.87" y="145.7" width="3.6" height="26.4"/><rect x="824.20" y="171.7" width="3.6" height="2.0"/></g></g>
<g clip-path="url(#ct)"><text x="0.89" y="461.60" font-size="4.9" fill="#bcbcbc" stroke="#bcbcbc" stroke-width="0.13" textLength="5.20" lengthAdjust="spacingAndGlyphs">11</text><text x="22.53" y="461.60" font-size="4.9" fill="#bcbcbc" stroke="#bcbcbc" stroke-width="0.13" textLength="5.20" lengthAdjust="spacingAndGlyphs">16</text><text x="44.18" y="461.60" font-size="4.9" fill="#bcbcbc" stroke="#bcbcbc" stroke-width="0.13" textLength="5.20" lengthAdjust="spacingAndGlyphs">21</text><text x="77.41" y="461.60" font-size="4.9" fill="#bcbcbc" stroke="#bcbcbc" stroke-width="0.13" textLength="8.00" lengthAdjust="spacingAndGlyphs">Mar</text><text x="101.71" y="461.60" font-size="4.9" fill="#bcbcbc" stroke="#bcbcbc" stroke-width="0.13" textLength="2.70" lengthAdjust="spacingAndGlyphs">6</text><text x="122.10" y="461.60" font-size="4.9" fill="#bcbcbc" stroke="#bcbcbc" stroke-width="0.13" textLength="5.20" lengthAdjust="spacingAndGlyphs">11</text><text x="143.75" y="461.60" font-size="4.9" fill="#bcbcbc" stroke="#bcbcbc" stroke-width="0.13" textLength="5.20" lengthAdjust="spacingAndGlyphs">16</text><text x="165.39" y="461.60" font-size="4.9" fill="#bcbcbc" stroke="#bcbcbc" stroke-width="0.13" textLength="5.20" lengthAdjust="spacingAndGlyphs">21</text><text x="187.04" y="461.60" font-size="4.9" fill="#bcbcbc" stroke="#bcbcbc" stroke-width="0.13" textLength="5.20" lengthAdjust="spacingAndGlyphs">26</text><text x="211.61" y="461.60" font-size="4.9" fill="#bcbcbc" stroke="#bcbcbc" stroke-width="0.13" textLength="8.00" lengthAdjust="spacingAndGlyphs">Apr</text><text x="235.91" y="461.60" font-size="4.9" fill="#bcbcbc" stroke="#bcbcbc" stroke-width="0.13" textLength="2.70" lengthAdjust="spacingAndGlyphs">6</text><text x="256.30" y="461.60" font-size="4.9" fill="#bcbcbc" stroke="#bcbcbc" stroke-width="0.13" textLength="5.20" lengthAdjust="spacingAndGlyphs">11</text><text x="277.95" y="461.60" font-size="4.9" fill="#bcbcbc" stroke="#bcbcbc" stroke-width="0.13" textLength="5.20" lengthAdjust="spacingAndGlyphs">16</text><text x="299.59" y="461.60" font-size="4.9" fill="#bcbcbc" stroke="#bcbcbc" stroke-width="0.13" textLength="5.20" lengthAdjust="spacingAndGlyphs">21</text><text x="321.24" y="461.60" font-size="4.9" fill="#bcbcbc" stroke="#bcbcbc" stroke-width="0.13" textLength="5.20" lengthAdjust="spacingAndGlyphs">26</text><text x="341.48" y="461.60" font-size="4.9" fill="#bcbcbc" stroke="#bcbcbc" stroke-width="0.13" textLength="8.00" lengthAdjust="spacingAndGlyphs">May</text><text x="365.78" y="461.60" font-size="4.9" fill="#bcbcbc" stroke="#bcbcbc" stroke-width="0.13" textLength="2.70" lengthAdjust="spacingAndGlyphs">6</text><text x="386.17" y="461.60" font-size="4.9" fill="#bcbcbc" stroke="#bcbcbc" stroke-width="0.13" textLength="5.20" lengthAdjust="spacingAndGlyphs">11</text><text x="407.82" y="461.60" font-size="4.9" fill="#bcbcbc" stroke="#bcbcbc" stroke-width="0.13" textLength="5.20" lengthAdjust="spacingAndGlyphs">16</text><text x="429.46" y="461.60" font-size="4.9" fill="#bcbcbc" stroke="#bcbcbc" stroke-width="0.13" textLength="5.20" lengthAdjust="spacingAndGlyphs">21</text><text x="451.11" y="461.60" font-size="4.9" fill="#bcbcbc" stroke="#bcbcbc" stroke-width="0.13" textLength="5.20" lengthAdjust="spacingAndGlyphs">26</text><text x="475.68" y="461.60" font-size="4.9" fill="#bcbcbc" stroke="#bcbcbc" stroke-width="0.13" textLength="8.00" lengthAdjust="spacingAndGlyphs">Jun</text><text x="499.97" y="461.60" font-size="4.9" fill="#bcbcbc" stroke="#bcbcbc" stroke-width="0.13" textLength="2.70" lengthAdjust="spacingAndGlyphs">6</text><text x="520.37" y="461.60" font-size="4.9" fill="#bcbcbc" stroke="#bcbcbc" stroke-width="0.13" textLength="5.20" lengthAdjust="spacingAndGlyphs">11</text><text x="542.01" y="461.60" font-size="4.9" fill="#bcbcbc" stroke="#bcbcbc" stroke-width="0.13" textLength="5.20" lengthAdjust="spacingAndGlyphs">16</text><text x="563.66" y="461.60" font-size="4.9" fill="#bcbcbc" stroke="#bcbcbc" stroke-width="0.13" textLength="5.20" lengthAdjust="spacingAndGlyphs">21</text><text x="585.30" y="461.60" font-size="4.9" fill="#bcbcbc" stroke="#bcbcbc" stroke-width="0.13" textLength="5.20" lengthAdjust="spacingAndGlyphs">26</text><text x="605.55" y="461.60" font-size="4.9" fill="#bcbcbc" stroke="#bcbcbc" stroke-width="0.13" textLength="8.00" lengthAdjust="spacingAndGlyphs">Jul</text><text x="629.84" y="461.60" font-size="4.9" fill="#bcbcbc" stroke="#bcbcbc" stroke-width="0.13" textLength="2.70" lengthAdjust="spacingAndGlyphs">6</text><text x="650.24" y="461.60" font-size="4.9" fill="#bcbcbc" stroke="#bcbcbc" stroke-width="0.13" textLength="5.20" lengthAdjust="spacingAndGlyphs">11</text><text x="671.88" y="461.60" font-size="4.9" fill="#bcbcbc" stroke="#bcbcbc" stroke-width="0.13" textLength="5.20" lengthAdjust="spacingAndGlyphs">16</text><text x="693.53" y="461.60" font-size="4.9" fill="#bcbcbc" stroke="#bcbcbc" stroke-width="0.13" textLength="5.20" lengthAdjust="spacingAndGlyphs">21</text><text x="715.17" y="461.60" font-size="4.9" fill="#bcbcbc" stroke="#bcbcbc" stroke-width="0.13" textLength="5.20" lengthAdjust="spacingAndGlyphs">26</text><text x="739.75" y="461.60" font-size="4.9" fill="#bcbcbc" stroke="#bcbcbc" stroke-width="0.13" textLength="8.00" lengthAdjust="spacingAndGlyphs">Aug</text><text x="764.04" y="461.60" font-size="4.9" fill="#bcbcbc" stroke="#bcbcbc" stroke-width="0.13" textLength="2.70" lengthAdjust="spacingAndGlyphs">6</text><text x="784.44" y="461.60" font-size="4.9" fill="#bcbcbc" stroke="#bcbcbc" stroke-width="0.13" textLength="5.20" lengthAdjust="spacingAndGlyphs">11</text><text x="806.08" y="461.60" font-size="4.9" fill="#bcbcbc" stroke="#bcbcbc" stroke-width="0.13" textLength="5.20" lengthAdjust="spacingAndGlyphs">16</text><text x="827.73" y="461.60" font-size="4.9" fill="#bcbcbc" stroke="#bcbcbc" stroke-width="0.13" textLength="5.20" lengthAdjust="spacingAndGlyphs">21</text></g>
<g clip-path="url(#ca)"><text x="833.50" y="14.37" font-size="4.9" fill="#bcbcbc" stroke="#bcbcbc" stroke-width="0.13" textLength="14.40" lengthAdjust="spacingAndGlyphs">4.1000</text><text x="833.50" y="27.23" font-size="4.9" fill="#bcbcbc" stroke="#bcbcbc" stroke-width="0.13" textLength="14.40" lengthAdjust="spacingAndGlyphs">4.0000</text><text x="833.50" y="40.09" font-size="4.9" fill="#bcbcbc" stroke="#bcbcbc" stroke-width="0.13" textLength="14.40" lengthAdjust="spacingAndGlyphs">3.9000</text><text x="833.50" y="52.94" font-size="4.9" fill="#bcbcbc" stroke="#bcbcbc" stroke-width="0.13" textLength="14.40" lengthAdjust="spacingAndGlyphs">3.8000</text><text x="833.50" y="65.80" font-size="4.9" fill="#bcbcbc" stroke="#bcbcbc" stroke-width="0.13" textLength="14.40" lengthAdjust="spacingAndGlyphs">3.7000</text><text x="833.50" y="78.66" font-size="4.9" fill="#bcbcbc" stroke="#bcbcbc" stroke-width="0.13" textLength="14.40" lengthAdjust="spacingAndGlyphs">3.6000</text><text x="833.50" y="91.52" font-size="4.9" fill="#bcbcbc" stroke="#bcbcbc" stroke-width="0.13" textLength="14.40" lengthAdjust="spacingAndGlyphs">3.5000</text><text x="833.50" y="104.37" font-size="4.9" fill="#bcbcbc" stroke="#bcbcbc" stroke-width="0.13" textLength="14.40" lengthAdjust="spacingAndGlyphs">3.4000</text><text x="833.50" y="117.23" font-size="4.9" fill="#bcbcbc" stroke="#bcbcbc" stroke-width="0.13" textLength="14.40" lengthAdjust="spacingAndGlyphs">3.3000</text><text x="833.50" y="130.09" font-size="4.9" fill="#bcbcbc" stroke="#bcbcbc" stroke-width="0.13" textLength="14.40" lengthAdjust="spacingAndGlyphs">3.2000</text><text x="833.50" y="142.94" font-size="4.9" fill="#bcbcbc" stroke="#bcbcbc" stroke-width="0.13" textLength="14.40" lengthAdjust="spacingAndGlyphs">3.1000</text><text x="833.50" y="155.80" font-size="4.9" fill="#bcbcbc" stroke="#bcbcbc" stroke-width="0.13" textLength="14.40" lengthAdjust="spacingAndGlyphs">3.0000</text><text x="833.50" y="168.66" font-size="4.9" fill="#bcbcbc" stroke="#bcbcbc" stroke-width="0.13" textLength="14.40" lengthAdjust="spacingAndGlyphs">2.9000</text><text x="833.50" y="181.51" font-size="4.9" fill="#bcbcbc" stroke="#bcbcbc" stroke-width="0.13" textLength="14.40" lengthAdjust="spacingAndGlyphs">2.8000</text><text x="833.50" y="194.37" font-size="4.9" fill="#bcbcbc" stroke="#bcbcbc" stroke-width="0.13" textLength="14.40" lengthAdjust="spacingAndGlyphs">2.7000</text><text x="833.50" y="207.23" font-size="4.9" fill="#bcbcbc" stroke="#bcbcbc" stroke-width="0.13" textLength="14.40" lengthAdjust="spacingAndGlyphs">2.6000</text><text x="833.50" y="220.08" font-size="4.9" fill="#bcbcbc" stroke="#bcbcbc" stroke-width="0.13" textLength="14.40" lengthAdjust="spacingAndGlyphs">2.5000</text><text x="833.50" y="232.94" font-size="4.9" fill="#bcbcbc" stroke="#bcbcbc" stroke-width="0.13" textLength="14.40" lengthAdjust="spacingAndGlyphs">2.4000</text><text x="833.50" y="245.80" font-size="4.9" fill="#bcbcbc" stroke="#bcbcbc" stroke-width="0.13" textLength="14.40" lengthAdjust="spacingAndGlyphs">2.3000</text><text x="833.50" y="258.66" font-size="4.9" fill="#bcbcbc" stroke="#bcbcbc" stroke-width="0.13" textLength="14.40" lengthAdjust="spacingAndGlyphs">2.2000</text><text x="833.50" y="271.51" font-size="4.9" fill="#bcbcbc" stroke="#bcbcbc" stroke-width="0.13" textLength="14.40" lengthAdjust="spacingAndGlyphs">2.1000</text><text x="833.50" y="284.37" font-size="4.9" fill="#bcbcbc" stroke="#bcbcbc" stroke-width="0.13" textLength="14.40" lengthAdjust="spacingAndGlyphs">2.0000</text><text x="833.50" y="297.23" font-size="4.9" fill="#bcbcbc" stroke="#bcbcbc" stroke-width="0.13" textLength="14.40" lengthAdjust="spacingAndGlyphs">1.9000</text><text x="833.50" y="310.08" font-size="4.9" fill="#bcbcbc" stroke="#bcbcbc" stroke-width="0.13" textLength="14.40" lengthAdjust="spacingAndGlyphs">1.8000</text><text x="833.50" y="322.94" font-size="4.9" fill="#bcbcbc" stroke="#bcbcbc" stroke-width="0.13" textLength="14.40" lengthAdjust="spacingAndGlyphs">1.7000</text><text x="833.50" y="335.80" font-size="4.9" fill="#bcbcbc" stroke="#bcbcbc" stroke-width="0.13" textLength="14.40" lengthAdjust="spacingAndGlyphs">1.6000</text><text x="833.50" y="348.65" font-size="4.9" fill="#bcbcbc" stroke="#bcbcbc" stroke-width="0.13" textLength="14.40" lengthAdjust="spacingAndGlyphs">1.5000</text><text x="833.50" y="361.51" font-size="4.9" fill="#bcbcbc" stroke="#bcbcbc" stroke-width="0.13" textLength="14.40" lengthAdjust="spacingAndGlyphs">1.4000</text><text x="833.50" y="374.37" font-size="4.9" fill="#bcbcbc" stroke="#bcbcbc" stroke-width="0.13" textLength="14.40" lengthAdjust="spacingAndGlyphs">1.3000</text><text x="833.50" y="387.23" font-size="4.9" fill="#bcbcbc" stroke="#bcbcbc" stroke-width="0.13" textLength="14.40" lengthAdjust="spacingAndGlyphs">1.2000</text><text x="833.50" y="400.08" font-size="4.9" fill="#bcbcbc" stroke="#bcbcbc" stroke-width="0.13" textLength="14.40" lengthAdjust="spacingAndGlyphs">1.1000</text><text x="833.50" y="412.94" font-size="4.9" fill="#bcbcbc" stroke="#bcbcbc" stroke-width="0.13" textLength="14.40" lengthAdjust="spacingAndGlyphs">1.0000</text><text x="833.50" y="425.80" font-size="4.9" fill="#bcbcbc" stroke="#bcbcbc" stroke-width="0.13" textLength="14.40" lengthAdjust="spacingAndGlyphs">0.9000</text><text x="833.50" y="438.65" font-size="4.9" fill="#bcbcbc" stroke="#bcbcbc" stroke-width="0.13" textLength="14.40" lengthAdjust="spacingAndGlyphs">0.8000</text><text x="833.50" y="451.51" font-size="4.9" fill="#bcbcbc" stroke="#bcbcbc" stroke-width="0.13" textLength="14.40" lengthAdjust="spacingAndGlyphs">0.7000</text></g>
<rect x="830.1" y="169.4" width="23.9" height="13.3" rx="0.6" fill="#f23645"/>
<text x="834.00" y="175.30" font-size="4.9" fill="#ffffff" stroke="#ffffff" stroke-width="0.13" textLength="13.80" lengthAdjust="spacingAndGlyphs">2.8470</text>
<text x="834.00" y="181.00" font-size="4.6" fill="#ffd9dc" stroke="#ffd9dc" stroke-width="0.13" textLength="17.80" lengthAdjust="spacingAndGlyphs">10:02:53</text>
<rect x="830.2" y="440.5" width="21.0" height="7.1" rx="0.6" fill="#f0545c"/>
<text x="833.50" y="445.80" font-size="4.9" fill="#ffffff" stroke="#ffffff" stroke-width="0.13" textLength="15.80" lengthAdjust="spacingAndGlyphs">45.53M</text>
<circle cx="826.0" cy="439.2" r="3.6" fill="#1a1026" stroke="#7b3fc4" stroke-width="0.9"/>
<path d="M826.6 436.9 L824.6 439.6 L826 439.6 L825.4 441.5 L827.5 438.7 L826.1 438.7 Z" fill="#9b59e0"/>
<circle cx="821.9" cy="440.7" r="1.3" fill="#7d4be0"/>
<circle cx="828.9" cy="436.6" r="1.0" fill="#f23645"/>
<circle cx="826.0" cy="449.3" r="3.7" fill="#e8e8f0" stroke="#d32f3a" stroke-width="0.9"/>
<path d="M822.8 449.3 A3.2 3.2 0 0 1 826 446.1 L826 449.3 Z" fill="#3f6fd8"/>
<path d="M823 450.6 H829 A3.2 3.2 0 0 1 823 450.6 Z" fill="#e0484f"/>
<text x="3.00" y="7.80" font-size="5.0" fill="#c8c8c8" stroke="#c8c8c8" stroke-width="0.13" textLength="150.00" lengthAdjust="spacingAndGlyphs">jhalver_writer created with TradingView.com, Aug 20, 2025 13:57 UTC</text>
<text x="6.00" y="18.70" font-size="4.9" fill="#bcbcbc" stroke="#bcbcbc" stroke-width="0.13" textLength="36.10" lengthAdjust="spacingAndGlyphs">XRP / U.S. Dollar</text>
<text x="44.10" y="18.70" font-size="4.9" fill="#bcbcbc" stroke="#bcbcbc" stroke-width="0.13" textLength="1.20" lengthAdjust="spacingAndGlyphs">·</text>
<text x="47.50" y="18.70" font-size="4.9" fill="#bcbcbc" stroke="#bcbcbc" stroke-width="0.13" textLength="4.30" lengthAdjust="spacingAndGlyphs">1D</text>
<text x="53.80" y="18.70" font-size="4.9" fill="#bcbcbc" stroke="#bcbcbc" stroke-width="0.13" textLength="1.20" lengthAdjust="spacingAndGlyphs">·</text>
<text x="57.20" y="18.70" font-size="4.9" fill="#bcbcbc" stroke="#bcbcbc" stroke-width="0.13" textLength="20.10" lengthAdjust="spacingAndGlyphs">COINBASE</text>
<text x="80.60" y="18.70" font-size="4.9" fill="#bcbcbc" stroke="#bcbcbc" stroke-width="0.13" textLength="2.90" lengthAdjust="spacingAndGlyphs">O</text>
<text x="83.90" y="18.70" font-size="4.9" fill="#f23645" stroke="#f23645" stroke-width="0.13" textLength="14.10" lengthAdjust="spacingAndGlyphs">2.8604</text>
<text x="101.20" y="18.70" font-size="4.9" fill="#bcbcbc" stroke="#bcbcbc" stroke-width="0.13" textLength="2.20" lengthAdjust="spacingAndGlyphs">H</text>
<text x="103.80" y="18.70" font-size="4.9" fill="#f23645" stroke="#f23645" stroke-width="0.13" textLength="13.70" lengthAdjust="spacingAndGlyphs">2.9151</text>
<text x="121.20" y="18.70" font-size="4.9" fill="#bcbcbc" stroke="#bcbcbc" stroke-width="0.13" textLength="1.70" lengthAdjust="spacingAndGlyphs">L</text>
<text x="123.30" y="18.70" font-size="4.9" fill="#f23645" stroke="#f23645" stroke-width="0.13" textLength="14.20" lengthAdjust="spacingAndGlyphs">2.8373</text>
<text x="140.40" y="18.70" font-size="4.9" fill="#bcbcbc" stroke="#bcbcbc" stroke-width="0.13" textLength="2.40" lengthAdjust="spacingAndGlyphs">C</text>
<text x="143.00" y="18.70" font-size="4.9" fill="#f23645" stroke="#f23645" stroke-width="0.13" textLength="14.50" lengthAdjust="spacingAndGlyphs">2.8470</text>
<text x="160.80" y="18.70" font-size="4.9" fill="#f23645" stroke="#f23645" stroke-width="0.13" textLength="36.20" lengthAdjust="spacingAndGlyphs">−0.0131 (−0.46%)</text>
<text x="6.00" y="25.40" font-size="4.9" fill="#bcbcbc" stroke="#bcbcbc" stroke-width="0.13" textLength="6.30" lengthAdjust="spacingAndGlyphs">Vol</text>
<text x="13.80" y="25.40" font-size="4.9" fill="#bcbcbc" stroke="#bcbcbc" stroke-width="0.13" textLength="1.20" lengthAdjust="spacingAndGlyphs">·</text>
<text x="17.00" y="25.40" font-size="4.9" fill="#bcbcbc" stroke="#bcbcbc" stroke-width="0.13" textLength="7.50" lengthAdjust="spacingAndGlyphs">XRP</text>
<text x="28.30" y="25.40" font-size="4.9" fill="#f23645" stroke="#f23645" stroke-width="0.13" textLength="15.70" lengthAdjust="spacingAndGlyphs">45.53M</text>
<g fill="#e6e6e6"><path d="M3.6 474.1 H9.0 V479.8 H6.2 V476.6 H3.6 Z"/><circle cx="10.6" cy="475.3" r="1.15"/><path d="M12.6 474.1 H15.3 L13.0 479.8 H10.2 Z"/></g>
<text x="18.60" y="479.80" font-size="8.0" fill="#e0e0e0" stroke="#e0e0e0" stroke-width="0.25" textLength="47.60" lengthAdjust="spacing">TradingView</text>
</svg></body></html>
